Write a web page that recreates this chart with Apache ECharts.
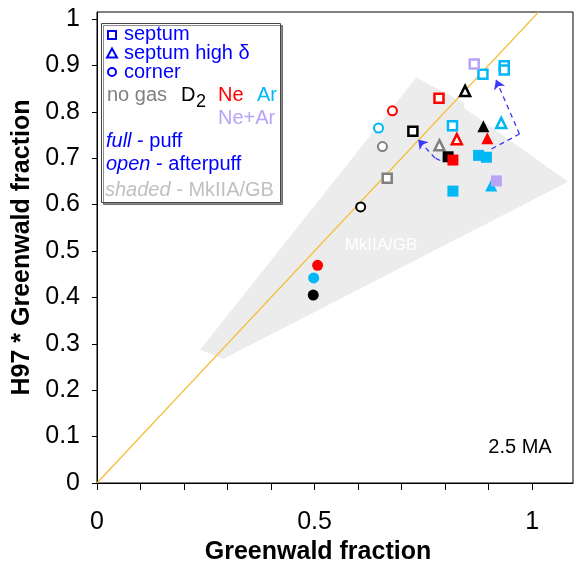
<!DOCTYPE html>
<html>
<head>
<meta charset="utf-8">
<script src="https://cdn.jsdelivr.net/npm/echarts@6/dist/echarts.min.js"></script>
<style>
  html, body { margin: 0; padding: 0; background: #fff; }
  #chart { width: 576px; height: 561px; }
</style>
</head>
<body>
<div id="chart"></div>
<script>
// septum (squares): open = afterpuff, full = puff
const sqOpenGray = [[0.667, 0.657]];
const sqOpenBlack = [[0.726, 0.758]];
const sqOpenRed = [[0.786, 0.829]];
const sqOpenCyan = [[0.887, 0.881], [0.817, 0.770], [0.936, 0.899], [0.936, 0.890]];
const sqOpenLilac = [[0.867, 0.903]];
const sqFullBlack = [[0.807, 0.703]];
const sqFullRed = [[0.818, 0.696]];
const sqFullCyan = [[0.877, 0.706], [0.895, 0.702], [0.818, 0.629]];
const sqFullLilac = [[0.918, 0.651]];
// septum high delta (triangles)
const triOpenGray = [[0.787, 0.728]];
const triOpenBlack = [[0.846, 0.845]];
const triOpenRed = [[0.827, 0.741]];
const triOpenCyan = [[0.929, 0.776]];
const triFullBlack = [[0.888, 0.769]];
const triFullRed = [[0.897, 0.743]];
const triFullCyan = [[0.906, 0.641]];
// corner (circles)
const cirOpenGray = [[0.656, 0.725]];
const cirOpenBlack = [[0.606, 0.595]];
const cirOpenRed = [[0.679, 0.802]];
const cirOpenCyan = [[0.647, 0.765]];
const cirFullBlack = [[0.497, 0.405]];
const cirFullRed = [[0.507, 0.469]];
const cirFullCyan = [[0.498, 0.442]];

// MkIIA/GB shaded region (outline) and y = x line
const shadeX = [0.237, 0.290, 1.083, 0.844, 0.844, 0.734];
const shadeY = [0.287, 0.267, 0.649, 0.808, 0.819, 0.874];
const diagonal = [[0, 0], [1.015, 1.015]];
// dashed arrows (last point = arrow tip)
const arrowA = [[0.907, 0.720], [0.971, 0.752], [0.917, 0.869]];
const arrowB = [[0.789, 0.695], [0.777, 0.700], [0.738, 0.740]];

const yTicks = [0, 0.1, 0.2, 0.3, 0.4, 0.5, 0.6, 0.7, 0.8, 0.9, 1];
const xTicks = [0, 0.1, 0.2, 0.3, 0.4, 0.5, 0.6, 0.7, 0.8, 0.9, 1];
const xLabels = [0, 0.5, 1];

const FONT = 'Liberation Sans, Arial, sans-serif';
const GRAY = '#808080', BLACK = '#000000', RED = '#FF0000', CYAN = '#00B8F5', LILAC = '#B7A4F5';
const BLUE = '#0000FF';

function marks(data, symbol, color, full) {
  let size;
  if (symbol === 'circle') size = full ? 11 : 9;
  else if (symbol === 'triangle') size = full ? 12 : 10;
  else size = full ? 11 : 9;
  return {
    type: 'scatter',
    data: data,
    symbol: symbol,
    symbolSize: size,
    silent: true,
    itemStyle: full
      ? { color: color, opacity: 1 }
      : { color: '#fff', borderColor: color, borderWidth: symbol === 'circle' ? 2 : 2.5, opacity: 1 },
    z: 5
  };
}

function arrowSeries(pts) {
  let segs = [];
  for (let i = 0; i < pts.length - 1; i++) segs.push({ coords: [pts[i], pts[i + 1]] });
  let style = { color: '#3838FF', width: 1.3, type: [5, 4], opacity: 1 };
  return [
    { type: 'lines', coordinateSystem: 'cartesian2d', data: segs.slice(0, -1), symbol: 'none',
      lineStyle: style, silent: true, z: 4 },
    { type: 'lines', coordinateSystem: 'cartesian2d', data: segs.slice(-1), symbol: ['none', 'arrow'],
      symbolSize: 9, lineStyle: style, silent: true, z: 4 }
  ];
}

function txt(x, y, text, color, extra) {
  return {
    type: 'text', x: x, y: y, z: 101,
    style: Object.assign({ text: text, fill: color, font: '20px ' + FONT, verticalAlign: 'middle', align: 'left' }, extra || {})
  };
}

const chart = echarts.init(document.getElementById('chart'));
chart.setOption({
  animation: false,
  backgroundColor: '#fff',
  grid: { left: 97, right: 3, top: 12, bottom: 78, show: true, borderColor: '#000', borderWidth: 1, outerBoundsMode: 'none' },
  xAxis: {
    type: 'value', min: 0, max: 1.094,
    name: 'Greenwald fraction', nameLocation: 'middle', nameGap: 49,
    nameTextStyle: { fontFamily: FONT, fontSize: 25, fontWeight: 'bold', color: '#000', padding: [0, 34, 0, 0] },
    axisLine: { lineStyle: { color: '#000', width: 1 } },
    axisTick: { length: 7, lineStyle: { color: '#000' }, customValues: xTicks },
    axisLabel: { fontFamily: FONT, fontSize: 25, color: '#000', margin: 27, customValues: xLabels },
    splitLine: { show: false }
  },
  yAxis: {
    type: 'value', min: 0, max: 1.015,
    name: 'H97 * Greenwald fraction', nameLocation: 'middle', nameGap: 54,
    nameTextStyle: { fontFamily: FONT, fontSize: 25, fontWeight: 'bold', color: '#000' },
    axisLine: { lineStyle: { color: '#000', width: 1 } },
    axisTick: { length: 5, lineStyle: { color: '#000' }, customValues: yTicks },
    axisLabel: { fontFamily: FONT, fontSize: 25, color: '#000', margin: 17, customValues: yTicks },
    splitLine: { show: false }
  },
  series: [
    {
      type: 'custom',
      data: [[0, 0]],
      silent: true,
      z: 1,
      renderItem: function (params, api) {
        return {
          type: 'polygon',
          shape: { points: shadeX.map((x, i) => api.coord([x, shadeY[i]])) },
          style: { fill: '#ECECEC' }
        };
      }
    },
    {
      type: 'line', data: diagonal, showSymbol: false, silent: true, z: 2,
      lineStyle: { color: '#F5BE3A', width: 1.2 }
    },
    ...arrowSeries(arrowA),
    ...arrowSeries(arrowB),
    marks(triOpenGray, 'triangle', GRAY, false),
    marks(triOpenBlack, 'triangle', BLACK, false),
    marks(triOpenRed, 'triangle', RED, false),
    marks(triOpenCyan, 'triangle', CYAN, false),
    marks(triFullBlack, 'triangle', BLACK, true),
    marks(triFullRed, 'triangle', RED, true),
    marks(triFullCyan, 'triangle', CYAN, true),
    marks(cirOpenGray, 'circle', GRAY, false),
    marks(cirOpenBlack, 'circle', BLACK, false),
    marks(cirOpenRed, 'circle', RED, false),
    marks(cirOpenCyan, 'circle', CYAN, false),
    marks(cirFullBlack, 'circle', BLACK, true),
    marks(cirFullRed, 'circle', RED, true),
    marks(cirFullCyan, 'circle', CYAN, true),
    marks(sqOpenGray, 'rect', GRAY, false),
    marks(sqOpenBlack, 'rect', BLACK, false),
    marks(sqOpenRed, 'rect', RED, false),
    marks(sqOpenCyan, 'rect', CYAN, false),
    marks(sqOpenLilac, 'rect', LILAC, false),
    marks(sqFullBlack, 'rect', BLACK, true),
    marks(sqFullRed, 'rect', RED, true),
    marks(sqFullCyan, 'rect', CYAN, true),
    marks(sqFullLilac, 'rect', LILAC, true)
  ],
  graphic: [
    // annotations inside the plot
    { type: 'text', x: 381, y: 245, z: 3,
      style: { text: 'MkIIA/GB', fill: '#fff', font: '17px ' + FONT, align: 'center', verticalAlign: 'middle' } },
    { type: 'text', x: 520, y: 447, z: 3,
      style: { text: '2.5 MA', fill: '#000', font: '20px ' + FONT, align: 'center', verticalAlign: 'middle' } },
    // legend box
    { type: 'rect', z: 100, shape: { x: 101.5, y: 23.5, width: 179, height: 179 },
      style: { fill: '#fff', stroke: '#444', lineWidth: 1, shadowColor: 'rgba(0,0,0,0.45)', shadowOffsetX: 2, shadowOffsetY: 2, shadowBlur: 0 } },
    { type: 'rect', z: 101, shape: { x: 108, y: 31, width: 8, height: 8 },
      style: { fill: 'none', stroke: BLUE, lineWidth: 2 } },
    txt(124, 34, 'septum', BLUE),
    { type: 'polygon', z: 101, shape: { points: [[112, 48.5], [107, 57.5], [117, 57.5]] },
      style: { fill: 'none', stroke: BLUE, lineWidth: 2 } },
    txt(124, 53, 'septum high \u03b4', BLUE),
    { type: 'circle', z: 101, shape: { cx: 112, cy: 72, r: 4 },
      style: { fill: 'none', stroke: BLUE, lineWidth: 2 } },
    txt(124, 72, 'corner', BLUE),
    txt(107, 95, 'no gas', GRAY),
    txt(181, 95, 'D', BLACK),
    txt(196, 102, '2', BLACK, { font: '18px ' + FONT }),
    txt(218, 95, 'Ne', RED),
    txt(257, 95, 'Ar', CYAN),
    txt(218, 118, 'Ne+Ar', LILAC),
    txt(106, 141, '{i|full} - puff', BLUE, { rich: { i: { fontStyle: 'italic', fontSize: 20, fontFamily: FONT, fill: BLUE } } }),
    txt(106, 164, '{i|open} - afterpuff', BLUE, { rich: { i: { fontStyle: 'italic', fontSize: 20, fontFamily: FONT, fill: BLUE } } }),
    txt(105, 190, '{i|shaded} - MkIIA/GB', '#C0C0C0', { rich: { i: { fontStyle: 'italic', fontSize: 20, fontFamily: FONT, fill: '#C0C0C0' } } })
  ]
});
</script>
</body>
</html>
